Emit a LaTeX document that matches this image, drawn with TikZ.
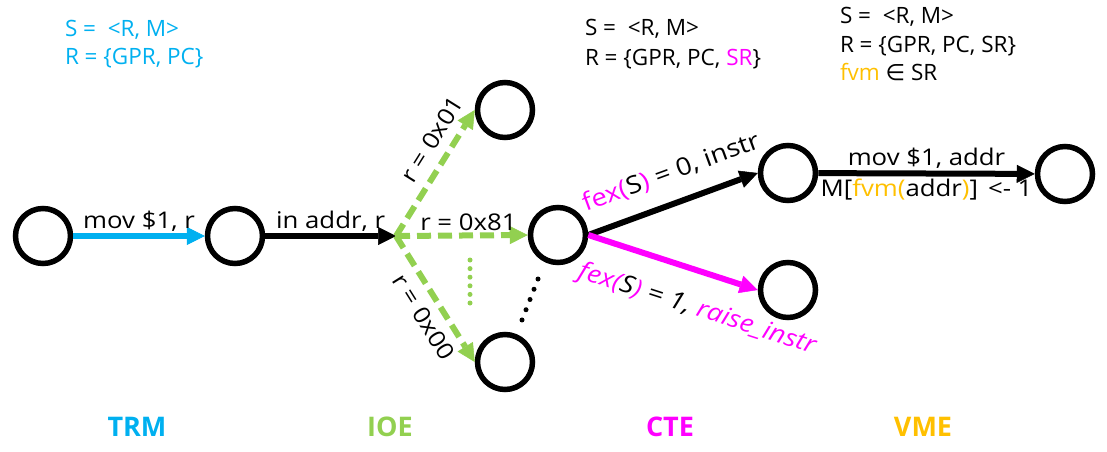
\documentclass[tikz,border=0pt]{standalone}
\usepackage{fontspec}
\setmainfont{Open Sans}
\newfontfamily\lblfont[FakeStretch=1.12]{Open Sans}
\newfontfamily\symfont{DejaVu Sans}
\usepackage{xcolor}
\usetikzlibrary{arrows.meta}
\definecolor{trmblue}{HTML}{00B0F0}
\definecolor{ioegreen}{HTML}{92D050}
\definecolor{ctepink}{HTML}{FF00FF}
\definecolor{vmeorange}{HTML}{FFC000}

\begin{document}
\begin{tikzpicture}[x=1pt,y=1pt,line width=6pt,
  state/.style={circle,draw=black,line width=5.5pt,minimum size=55pt,inner sep=0pt},
  edge/.style={-{Triangle[length=18pt,width=18pt,line width=0.5pt]}},
  guard/.style={edge,ioegreen,dash pattern=on 14pt off 7pt},
  lbl/.style={font=\lblfont\fontsize{23}{27}\selectfont,inner sep=2pt,text=black},
  biglbl/.style={lbl,font=\lblfont\fontsize{24.5}{28}\selectfont},
  txt/.style={font=\fontsize{22.5}{27}\selectfont,inner sep=0pt,anchor=base west},
  stage/.style={font=\bfseries\fontsize{27}{30}\selectfont,inner sep=0pt}]
\useasboundingbox (0,0) rectangle (1107,451);
% states
  \node[state] (s1) at (43,215) {};
  \node[state] (s2) at (235,215) {};
  \coordinate (fork) at (396,215);
  \node[state] (s3) at (505,341) {};
  \node[state] (s4) at (558,216) {};
  \node[state] (s5) at (505,89) {};
  \node[state] (s6) at (788,278) {};
  \node[state] (s7) at (788,161) {};
  \node[state] (s8) at (1065,277) {};
% TRM
  \draw[edge,trmblue] (s1) -- node[lbl,above] {mov \$1, r} (s2);
  \draw[edge] (s2) -- node[lbl,above] {in addr, r} (fork);
% IOE
  \draw[guard] (fork) -- node[lbl,sloped,above=7pt,pos=0.68] {r = 0x01} (s3.west);
  \draw[guard] (fork) -- node[lbl,above,pos=0.55] {r = 0x81} (s4.west);
  \draw[guard] (fork) -- node[lbl,sloped,below=6pt,pos=0.56] {r = 0x00} (s5.west);
  \coordinate (gdot1) at (470,191);
  \coordinate (gdot2) at (470,148);
  \draw[ioegreen,line width=5pt,line cap=round,dash pattern=on 0pt off 8.6pt] (gdot1) -- (gdot2);
  \coordinate (kdot1) at (538,172);
  \coordinate (kdot2) at (522,131);
  \draw[line width=5pt,line cap=round,dash pattern=on 0pt off 11pt] (kdot1) -- (kdot2);
% CTE
  \draw[edge] (s4.east) -- node[biglbl,sloped,above=14pt,pos=0.55]
    {\textcolor{ctepink}{fex(}S\textcolor{ctepink}{)} = 0, instr} (s6.west);
  \draw[edge,ctepink] (s4.east) -- node[biglbl,sloped,below=20pt,pos=0.71]
    {\itshape\textcolor{ctepink}{fex(}S\textcolor{ctepink}{)} = 1, \textcolor{ctepink}{raise\_instr}} (s7.west);
% VME
  \draw[edge] (s6) -- node[lbl,above] {mov \$1, addr}
    node[lbl,below] {M[\textcolor{vmeorange}{fvm(}addr\textcolor{vmeorange}{)}]\hspace{10pt}<- 1} (s8);
% state definitions
  \node[txt,text=trmblue] (trmS) at (62,414) {S =\ \ <R, M>};
  \node[txt,text=trmblue] (trmR) at (62,387) {R = \{GPR, PC\}};
  \node[txt] (cteS) at (582,415) {S =\ \ <R, M>};
  \node[txt] (cteR) at (582,386) {R = \{GPR, PC, \textcolor{ctepink}{SR}\}};
  \node[txt] (vmeS) at (837,427) {S =\ \ <R, M>};
  \node[txt] (vmeR) at (837,399) {R = \{GPR, PC, SR\}};
  \node[txt] (vmeF) at (837,371) {\textcolor{vmeorange}{fvm} {\symfont ∈} SR};
% stages
  \node[stage,text=trmblue] (trm) at (137,24) {TRM};
  \node[stage,text=ioegreen] (ioe) at (390,24) {IOE};
  \node[stage,text=ctepink] (cte) at (670,24) {CTE};
  \node[stage,text=vmeorange] (vme) at (923,24) {VME};
\end{tikzpicture}
\end{document}
